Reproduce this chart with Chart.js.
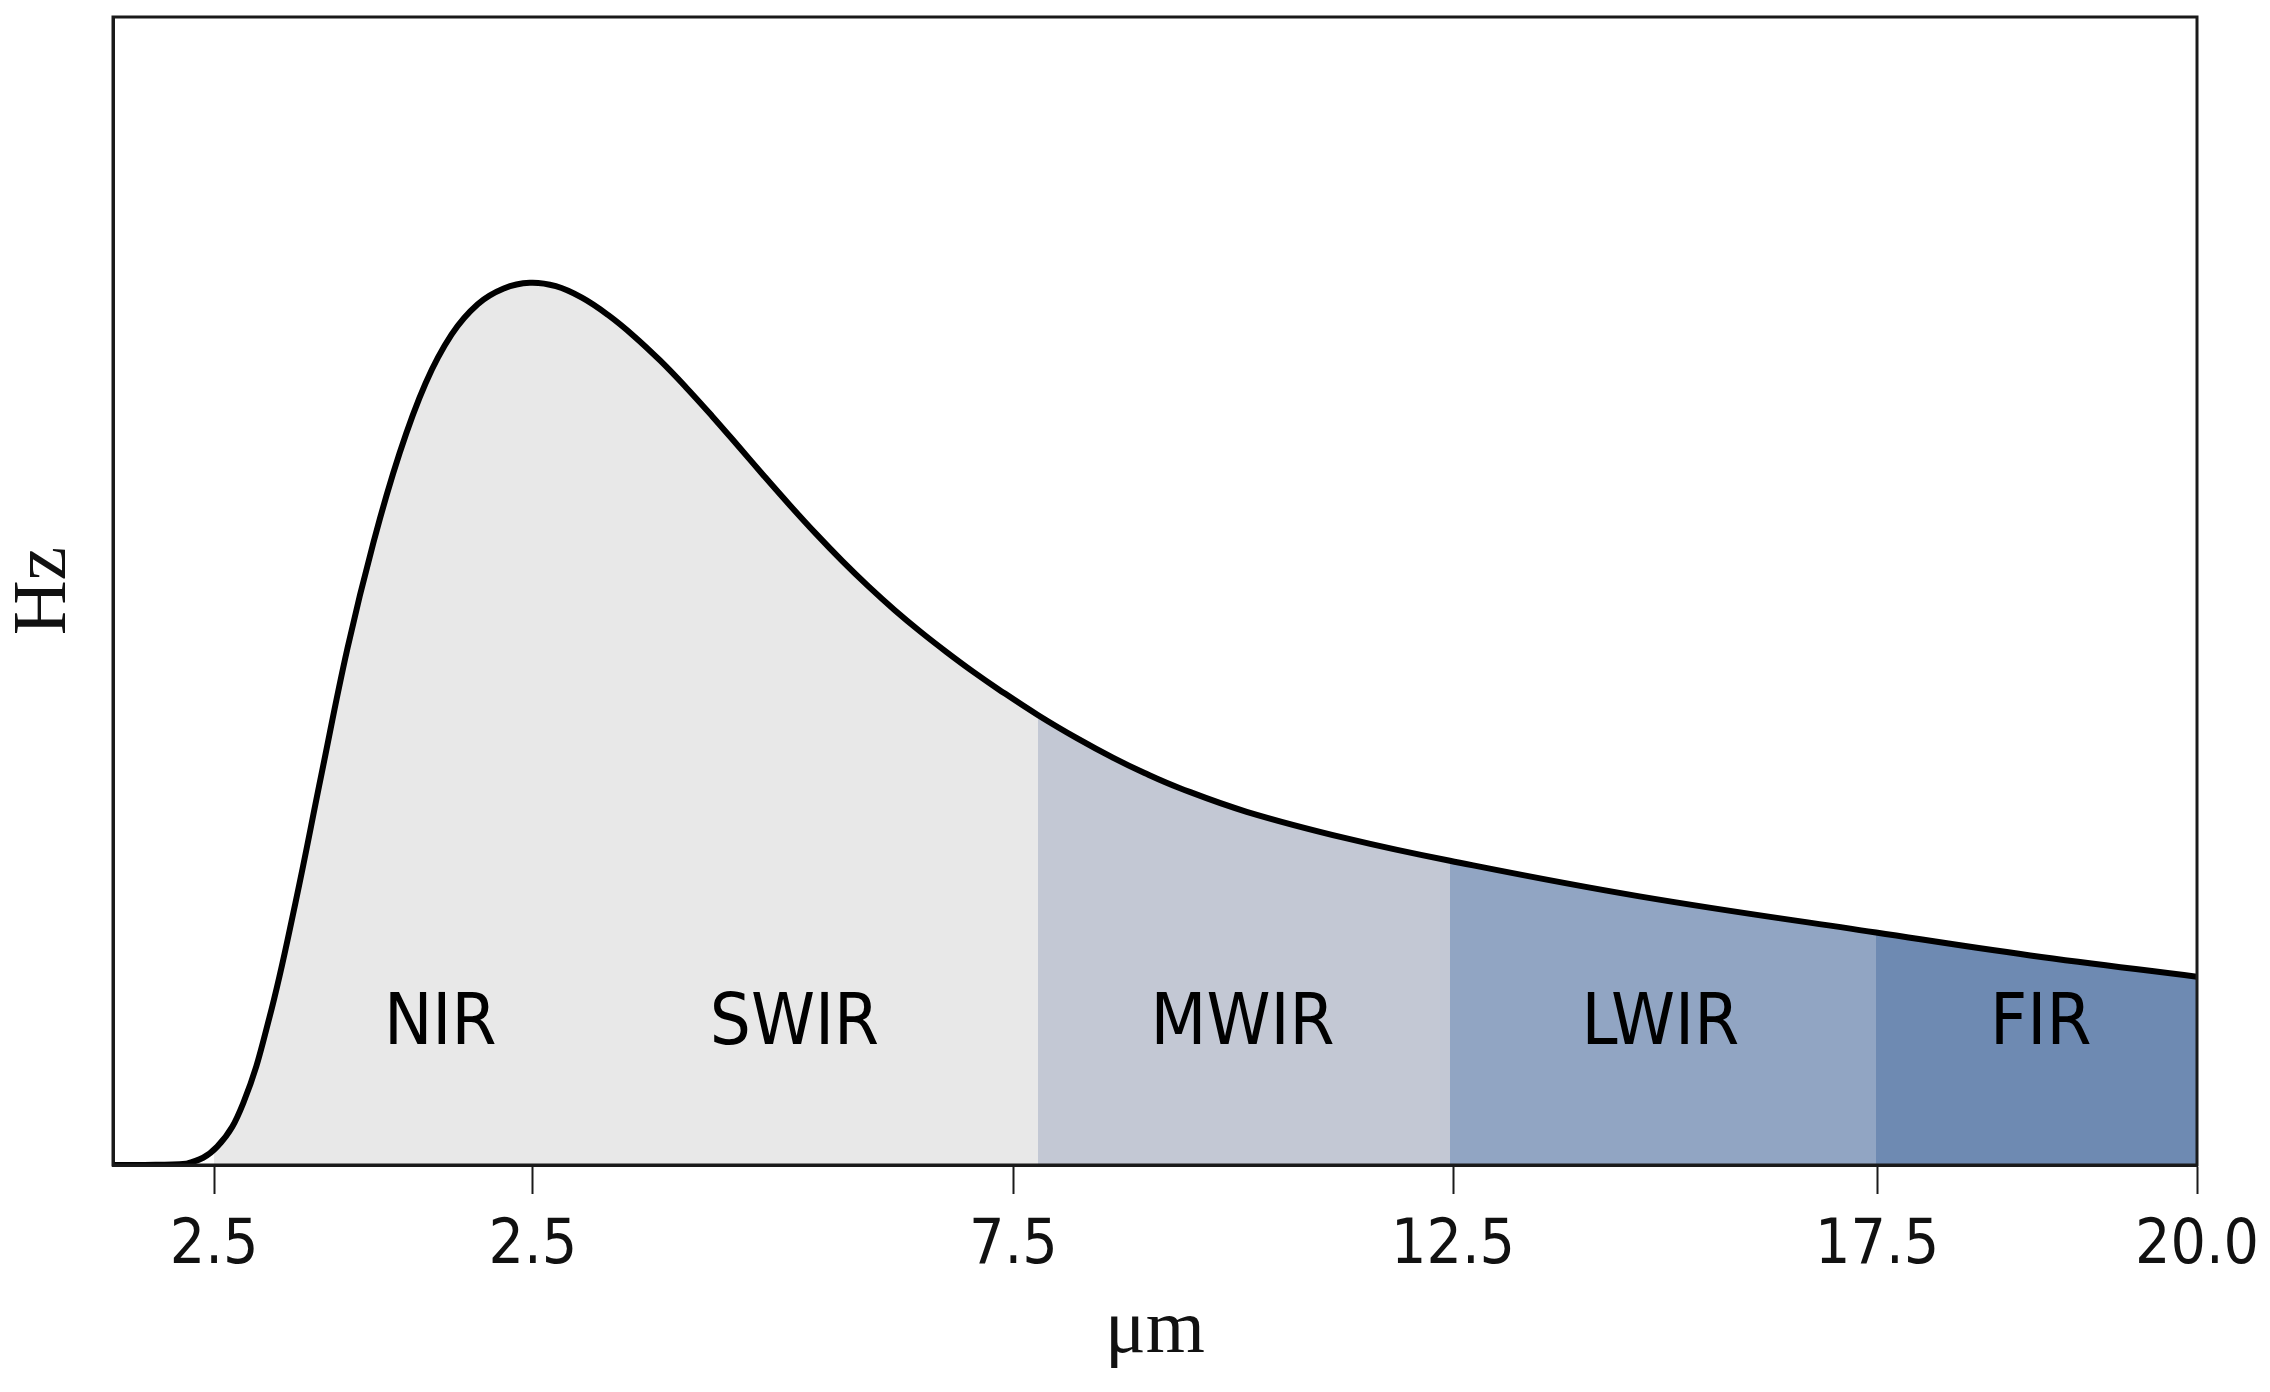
<!DOCTYPE html>
<html>
<head>
<meta charset="utf-8">
<script src="https://cdn.jsdelivr.net/npm/chart.js@4.4.1/dist/chart.umd.min.js"></script>
<style>
    html, body { margin: 0; padding: 0; background: #ffffff; }
    #wrap { width: 2270px; height: 1392px; position: relative; }
</style>
</head>
<body>
<div id="wrap"><canvas id="chart"></canvas></div>
<script>
// Courbe (axe x en unités du graphe, 0..20 ; axe y relatif 0..1)
const curveX = [0, 0.30, 0.70, 1.00, 1.25, 1.50, 1.75, 2.00, 2.25, 2.50, 2.75, 3.00, 3.25, 3.50, 3.75,
                4.00, 4.25, 4.50, 4.75, 5.00, 5.25, 5.50, 5.75, 6.00, 6.25, 6.50, 6.75, 7.00, 7.25,
                7.50, 7.75, 8.00, 8.25, 8.50, 8.875, 9.25, 9.60, 9.90, 10.24, 10.88, 11.84, 12.83, 14.65,
                16.92, 18.40, 20];
const curveY = [0, 0, 0.001, 0.016, 0.054, 0.128, 0.228, 0.340, 0.450, 0.5425, 0.620, 0.681, 0.7235, 0.7498, 0.7635,
                0.7685, 0.7655, 0.7555, 0.7405, 0.722, 0.7008, 0.6773, 0.6523, 0.6263, 0.600, 0.5743, 0.5495, 0.526, 0.504,
                0.4835, 0.4645, 0.4468, 0.430, 0.4143, 0.392, 0.3718, 0.3546, 0.3414, 0.3282, 0.3077, 0.2845, 0.265, 0.234,
                0.2025, 0.1825, 0.164];

// Graduations de l'axe x (positions et libellés tels qu'affichés)
const tickPositions = [0.97, 4.03, 8.64, 12.86, 16.93, 20];
const tickLabels = ['2.5', '2.5', '7.5', '12.5', '17.5', '20.0'];

// Bandes spectrales
const bandStarts = [0.97, 8.875, 12.83, 16.92];
const bandEnds = [8.875, 12.83, 16.92, 20];
const bandColors = ['#e8e8e8', '#c3c8d4', '#91a5c3', '#6e8ab2'];

// Libellés des bandes
const bandNames = ['NIR', 'SWIR', 'MWIR', 'LWIR', 'FIR'];
const bandLabelX = [3.14, 6.54, 10.84, 14.85, 18.5];
const bandLabelY = 0.105;

const points = curveX.map((x, i) => ({ x: x, y: curveY[i] }));

/**
 * Dégradé horizontal à arrêts francs pour colorer chaque bande
 */
function bandFill(context) {
    const chart = context.chart;
    const area = chart.chartArea;
    if (!area) return 'transparent';
    const xs = chart.scales.x;
    const x0 = xs.getPixelForValue(xs.min);
    const x1 = xs.getPixelForValue(xs.max);
    const g = chart.ctx.createLinearGradient(x0, 0, x1, 0);
    const toStop = v => Math.min(1, Math.max(0, (xs.getPixelForValue(v) - x0) / (x1 - x0)));
    g.addColorStop(0, 'rgba(255,255,255,0)');
    g.addColorStop(toStop(bandStarts[0]), 'rgba(255,255,255,0)');
    bandStarts.forEach((s, i) => {
        g.addColorStop(toStop(s), bandColors[i]);
        g.addColorStop(toStop(bandEnds[i]), bandColors[i]);
    });
    return g;
}

// Cadre complet et libellés des bandes
const framePlugin = {
    id: 'frame',
    afterDatasetsDraw(chart) {
        const { ctx, chartArea, scales } = chart;
        ctx.save();
        ctx.fillStyle = '#000000';
        ctx.font = '72px "DejaVu Sans Condensed", "DejaVu Sans", sans-serif';
        ctx.textAlign = 'center';
        ctx.textBaseline = 'alphabetic';
        bandNames.forEach((name, i) => {
            ctx.fillText(name, scales.x.getPixelForValue(bandLabelX[i]), scales.y.getPixelForValue(bandLabelY));
        });
        ctx.strokeStyle = '#1a1a1a';
        ctx.lineWidth = 3;
        ctx.strokeRect(chartArea.left, chartArea.top, chartArea.right - chartArea.left, chartArea.bottom - chartArea.top);
        ctx.restore();
    }
};

new Chart(document.getElementById('chart'), {
    type: 'line',
    data: {
        datasets: [{
            data: points,
            borderColor: '#000000',
            borderWidth: 6,
            backgroundColor: bandFill,
            fill: 'origin',
            pointRadius: 0,
            tension: 0.4
        }]
    },
    options: {
        responsive: true,
        maintainAspectRatio: false,
        animation: false,
        layout: { padding: { left: 0, top: 17, right: 73, bottom: 0 } },
        plugins: {
            legend: { display: false },
            tooltip: { enabled: false }
        },
        scales: {
            x: {
                type: 'linear',
                min: 0,
                max: 20,
                afterBuildTicks: (scale) => {
                    scale.ticks = tickPositions.map(v => ({ value: v }));
                },
                afterFit: (scale) => {
                    scale.height = 227;
                    scale.paddingLeft = 0;
                    scale.paddingRight = 0;
                },
                ticks: {
                    autoSkip: false,
                    maxRotation: 0,
                    padding: 16,
                    color: '#111111',
                    font: { family: '"DejaVu Sans Condensed", "DejaVu Sans", sans-serif', size: 62 },
                    callback: (value, index) => tickLabels[index]
                },
                grid: {
                    drawOnChartArea: false,
                    drawTicks: true,
                    tickLength: 29,
                    tickWidth: 2,
                    tickColor: '#1a1a1a'
                },
                border: { display: true, color: '#1a1a1a', width: 3 },
                title: {
                    display: true,
                    text: 'μm',
                    color: '#111111',
                    font: { family: '"Liberation Serif", "DejaVu Serif", serif', size: 76, lineHeight: 1.13 },
                    padding: { top: 17, bottom: 17 }
                }
            },
            y: {
                min: 0,
                max: 1,
                afterFit: (scale) => { scale.width = 113; },
                ticks: { display: false },
                grid: { display: false, drawTicks: false },
                border: { display: true, color: '#1a1a1a', width: 3 },
                title: {
                    display: true,
                    text: 'Hz',
                    color: '#111111',
                    font: { family: '"Liberation Serif", "DejaVu Serif", serif', size: 76, lineHeight: 1.13 },
                    padding: { top: 2, bottom: 2 }
                }
            }
        }
    },
    plugins: [framePlugin]
});
</script>
</body>
</html>
